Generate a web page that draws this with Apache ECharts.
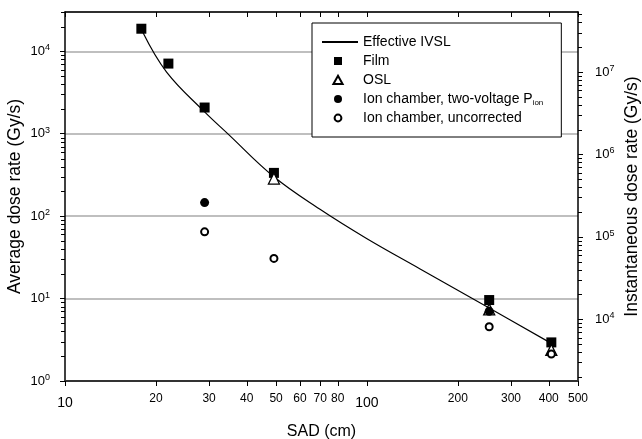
<!DOCTYPE html>
<html><head><meta charset="utf-8">
<script src="https://cdn.jsdelivr.net/npm/echarts@6/dist/echarts.min.js"></script>
<style>html,body{margin:0;padding:0;background:#fff}#c{width:642px;height:439px}</style>
</head><body><div id="c"></div>
<script>
// ---- data ----
const ivslX = [18.1, 21.7, 29.0, 34.5, 49.2, 69.7, 99.4, 150, 254, 408];
const ivslY = [17000, 5600, 1840, 1010, 300, 122, 54, 22.9, 7.7, 2.86];
const filmX = [17.9, 22.0, 29.0, 49.2, 254, 408];
const filmY = [18800, 7100, 2080, 335, 9.6, 2.94];
const oslX = [49.2, 254, 408];
const oslY = [286, 7.4, 2.38];
const ionX = [29.0, 254];
const ionY = [146, 7.0];
const ionUncX = [29.0, 49.2, 254, 408];
const ionUncY = [64.5, 30.7, 4.55, 2.12];
const xExtraTickLabels = [20, 30, 40, 50, 60, 70, 80, 200, 300, 400, 500];
const xMinorTicks = [20, 30, 40, 50, 60, 70, 80, 200, 300, 400, 500];
const leftTickExps = [0, 1, 2, 3, 4];
const rightTickExps = [3, 4, 5, 6, 7];
const ratioInstToAvg = 1780;
const xMin = 10, xMax = 500, yMin = 1, yMax = 30000;

const FF = '"Liberation Sans", Arial, sans-serif';
const pairs = (xs, ys) => xs.map((x, i) => [x, ys[i]]);
const isPow = v => Math.abs(Math.log10(v) - Math.round(Math.log10(v))) < 1e-6;
const supLabel = v => isPow(v) ? '{b|10}{s|' + Math.round(Math.log10(v)) + '}' : '';
const supRich = {
  b: {fontSize: 13, fontFamily: FF, color: '#000', lineHeight: 16},
  s: {fontSize: 9, fontFamily: FF, color: '#000', lineHeight: 9, verticalAlign: 'top'}
};
// legend icons (box 36 x 10, symbol centred at x=16)
const BOX = 'M0,0M36,10';
const icoSquare = 'path://' + BOX + 'M12,1L20,1L20,9L12,9Z';
const icoTri = 'path://' + BOX + 'M16,0.8L20.6,9L11.4,9Z';
const icoDot = 'path://' + BOX + 'M12,5A4,4 0 1,0 20,5A4,4 0 1,0 12,5Z';
const icoRing = 'path://' + BOX + 'M12.6,5A3.4,3.4 0 1,0 19.4,5A3.4,3.4 0 1,0 12.6,5Z';

const chart = echarts.init(document.getElementById('c'));
const option = {
  animation: false,
  backgroundColor: '#fff',
  grid: {left: 65, right: 64, top: 12, bottom: 58, containLabel: false, outerBoundsMode: 'none'},
  legend: {
    orient: 'vertical', left: 312, top: 23,
    backgroundColor: '#fff', borderColor: '#000', borderWidth: 1,
    padding: [11, 18, 11, 9], itemGap: 3, itemWidth: 36, itemHeight: 10,
    textStyle: {fontSize: 14, fontFamily: FF, color: '#000', lineHeight: 16,
      rich: {sub: {fontSize: 8, fontFamily: FF, color: '#000', verticalAlign: 'bottom', lineHeight: 16}}},
    formatter: n => n === 'Ion chamber, two-voltage Pion' ? 'Ion chamber, two-voltage P{sub|ion}' : n,
    data: [
      {name: 'Effective IVSL', itemStyle: {opacity: 0}},
      {name: 'Film', icon: icoSquare},
      {name: 'OSL', icon: icoTri},
      {name: 'Ion chamber, two-voltage Pion', icon: icoDot},
      {name: 'Ion chamber, uncorrected', icon: icoRing}
    ]
  },
  xAxis: [{
    type: 'log', logBase: 10, min: xMin, max: xMax,
    name: 'SAD (cm)', nameLocation: 'middle', nameGap: 43, nameMoveOverlap: false,
    nameTextStyle: {fontSize: 16, fontFamily: FF, color: '#000'},
    axisLine: {lineStyle: {color: '#333', width: 2}},
    axisTick: {show: true, length: 5, lineStyle: {color: '#000', width: 1}},
    axisLabel: {formatter: v => isPow(v) ? String(Math.round(v)) : '', fontSize: 14, fontFamily: FF, color: '#000', margin: 15,
      showMaxLabel: false},
    splitLine: {show: false}
  }, {
    type: 'log', logBase: 10, min: xMin, max: xMax, position: 'top',
    axisLine: {lineStyle: {color: '#000', width: 1.5}},
    axisTick: {show: true, inside: true, length: 5, lineStyle: {color: '#000'}},
    axisLabel: {show: false}, splitLine: {show: false}
  }],
  yAxis: [{
    type: 'log', logBase: 10, min: yMin, max: yMax,
    name: 'Average dose rate (Gy/s)', nameLocation: 'middle', nameGap: 41, nameRotate: 90, nameMoveOverlap: false,
    nameTextStyle: {fontSize: 17.5, fontFamily: FF, color: '#000'},
    axisLine: {lineStyle: {color: '#000', width: 1.5}},
    axisTick: {show: true, length: 5, lineStyle: {color: '#000'}},
    axisLabel: {formatter: supLabel, rich: supRich, margin: 15, showMaxLabel: false},
    splitLine: {show: true, lineStyle: {color: '#aaa', width: 1.5}}
  }, {
    type: 'log', logBase: 10, min: yMin * ratioInstToAvg, max: yMax * ratioInstToAvg, position: 'right',
    name: 'Instantaneous dose rate (Gy/s)', nameLocation: 'middle', nameGap: 45, nameRotate: 90, nameMoveOverlap: false,
    nameTextStyle: {fontSize: 17.5, fontFamily: FF, color: '#000'},
    axisLine: {show: true, lineStyle: {color: '#000', width: 1.5}},
    axisTick: {show: true, length: 5, lineStyle: {color: '#000'}},
    axisLabel: {formatter: supLabel, rich: supRich, margin: 17, showMinLabel: false, showMaxLabel: false},
    splitLine: {show: false}
  }],
  series: [{
    name: 'Effective IVSL', type: 'line', smooth: 0.4, symbol: 'none', showSymbol: false,
    lineStyle: {color: '#000', width: 1.2}, itemStyle: {color: '#000'},
    data: pairs(ivslX, ivslY), z: 2
  }, {
    name: 'Film', type: 'scatter', symbol: 'rect', symbolSize: 10,
    itemStyle: {color: '#000', opacity: 1}, data: pairs(filmX, filmY), z: 3
  }, {
    name: 'OSL', type: 'scatter', symbol: 'triangle', symbolSize: 11,
    itemStyle: {color: '#fff', borderColor: '#000', borderWidth: 1.3, opacity: 1}, data: pairs(oslX, oslY), z: 4
  }, {
    name: 'Ion chamber, two-voltage Pion', type: 'scatter', symbol: 'circle', symbolSize: 9,
    itemStyle: {color: '#000', opacity: 1}, data: pairs(ionX, ionY), z: 5
  }, {
    name: 'Ion chamber, uncorrected', type: 'scatter', symbol: 'circle', symbolSize: 7,
    itemStyle: {color: '#fff', borderColor: '#000', borderWidth: 2, opacity: 1}, data: pairs(ionUncX, ionUncY), z: 6
  }]
};
chart.setOption(option);

// minor ticks and extra labels, positioned through the chart's own axes
const gLeft = chart.convertToPixel({xAxisIndex: 0}, xMin);
const gRight = chart.convertToPixel({xAxisIndex: 0}, xMax);
const gBottom = chart.convertToPixel({yAxisIndex: 0}, yMin);
const gTop = chart.convertToPixel({yAxisIndex: 0}, yMax);
const els = [];
const tick = (x1, y1, x2, y2) => els.push({type: 'line', silent: true, z: 10,
  shape: {x1, y1, x2, y2}, style: {stroke: '#000', lineWidth: 1}});
xMinorTicks.forEach(v => {
  const px = Math.round(chart.convertToPixel({xAxisIndex: 0}, v)) + 0.5;
  tick(px, gBottom, px, gBottom + 5);
  tick(px, gTop, px, gTop + 5);
});
xExtraTickLabels.forEach(v => {
  const px = chart.convertToPixel({xAxisIndex: 0}, v);
  els.push({type: 'text', silent: true, x: px, y: gBottom + 18,
    style: {text: String(v), fontSize: 12, fontFamily: FF, fill: '#000', align: 'center', verticalAlign: 'middle'}});
});
leftTickExps.forEach(e => {
  for (let m = 2; m <= 9; m++) {
    const v = m * Math.pow(10, e);
    if (v > yMax) continue;
    const py = Math.round(chart.convertToPixel({yAxisIndex: 0}, v)) + 0.5;
    tick(gLeft - 4, py, gLeft, py);
  }
});
rightTickExps.forEach(e => {
  for (let m = 2; m <= 9; m++) {
    const v = m * Math.pow(10, e);
    if (v < yMin * ratioInstToAvg || v > yMax * ratioInstToAvg) continue;
    const py = Math.round(chart.convertToPixel({yAxisIndex: 1}, v)) + 0.5;
    tick(gRight, py, gRight + 4, py);
  }
});
chart.setOption({graphic: {elements: els}});
</script></body></html>
